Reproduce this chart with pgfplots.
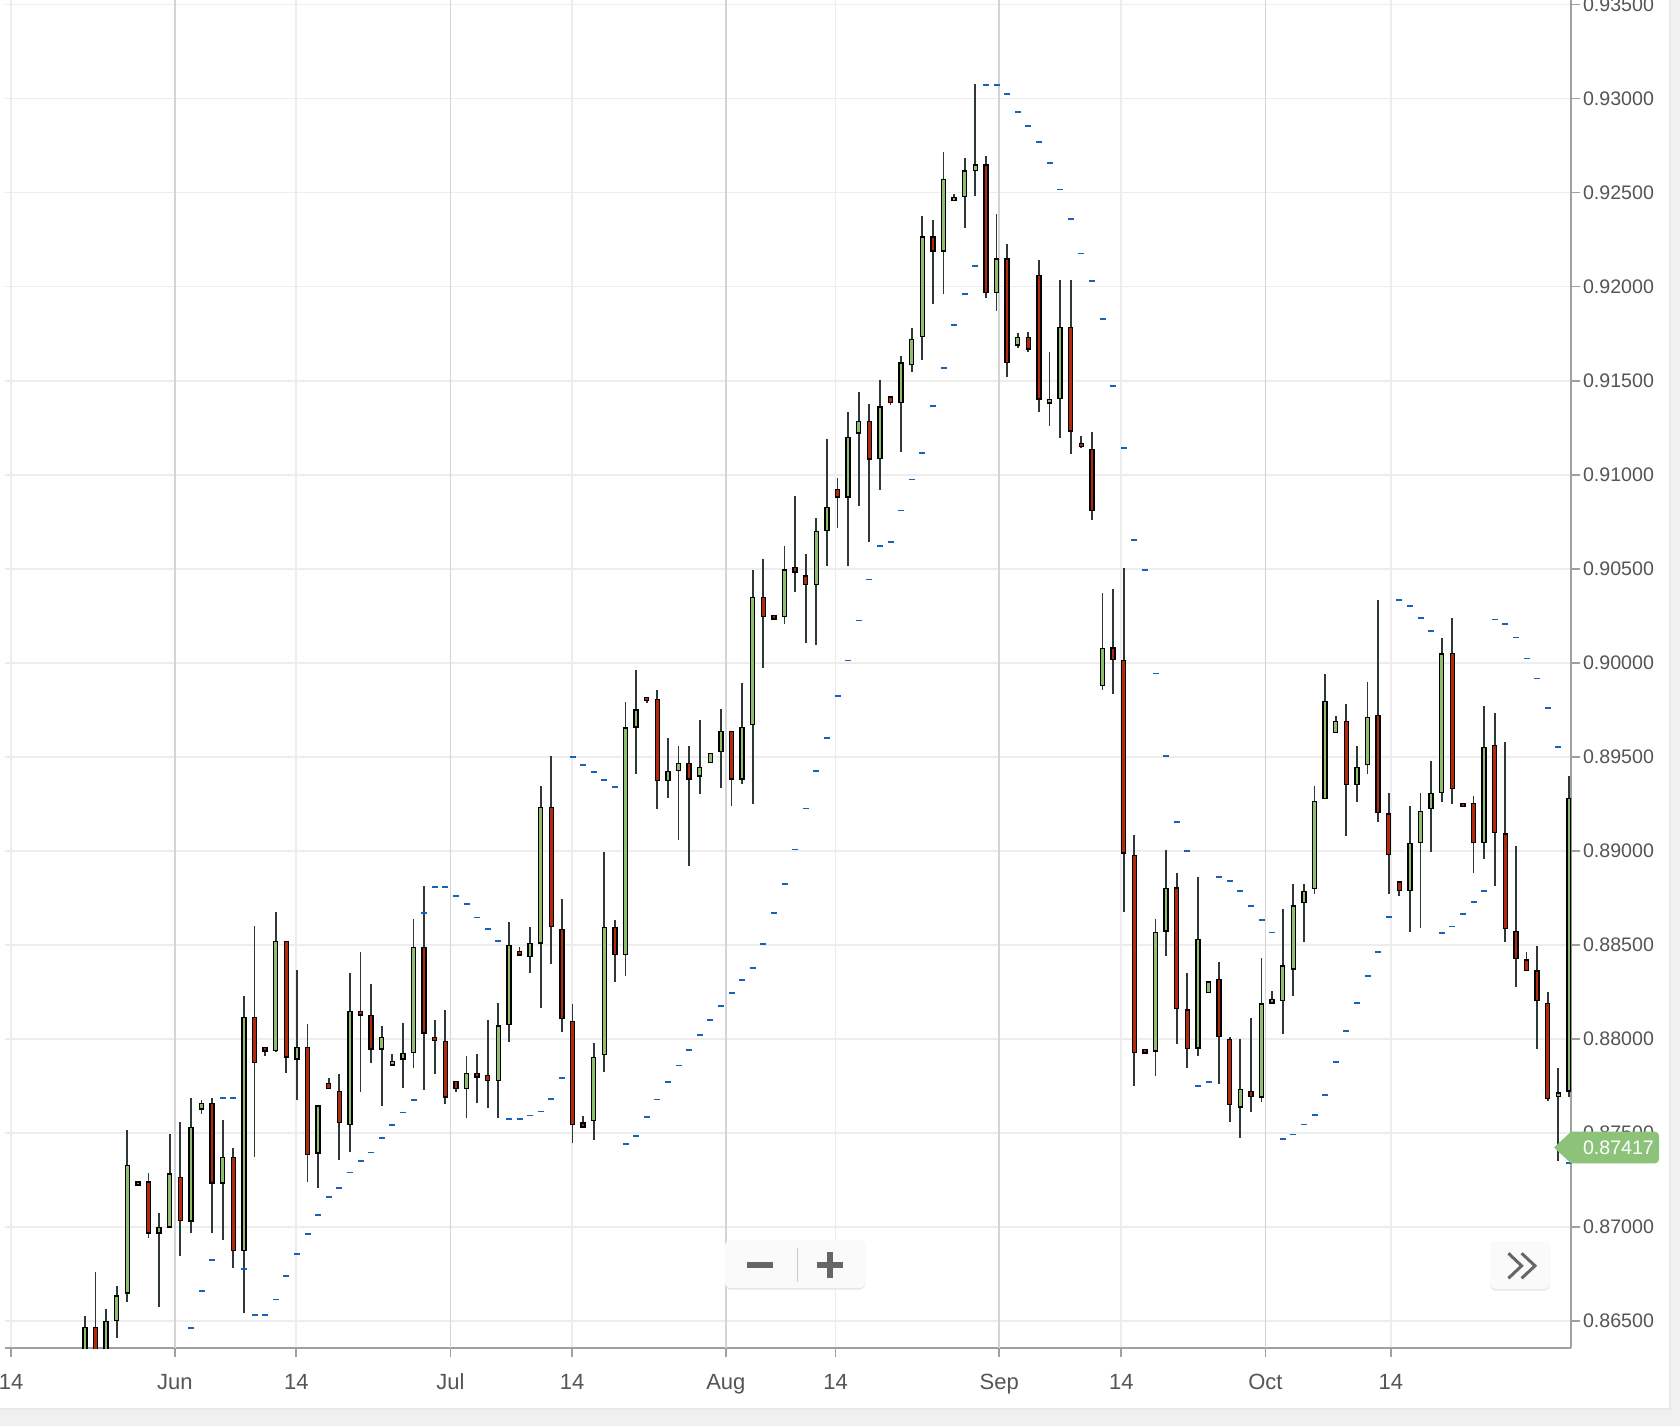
\documentclass[border=0pt]{standalone}
\usepackage{pgfplots}
\pgfplotsset{compat=1.18}
\usepackage{pgfplotstable}
\usepackage{fontspec}
\setmainfont{Liberation Sans}
\definecolor{gup}{HTML}{8FBE6F}
\definecolor{gdn}{HTML}{B3290E}
\definecolor{wick}{HTML}{2E3838}
\definecolor{sarc}{HTML}{1862B8}
\definecolor{gridc}{HTML}{EDEDED}
\definecolor{monthc}{HTML}{D4D4D4}
\definecolor{axisc}{HTML}{A0A0A0}
\definecolor{labelc}{HTML}{555555}
\definecolor{tagc}{HTML}{8DC27A}
\definecolor{btnc}{HTML}{666666}

\pgfplotstableread{
x O H L C
1 0.86300 0.86525 0.86250 0.86468
2 0.86468 0.86761 0.86200 0.86320
3 0.86330 0.86566 0.86250 0.86500
4 0.86498 0.86684 0.86411 0.86637
5 0.86645 0.87514 0.86601 0.87328
6 0.87228 0.87240 0.87222 0.87236
7 0.87243 0.87289 0.86941 0.86965
8 0.86965 0.87076 0.86571 0.87000
9 0.86996 0.87493 0.86996 0.87285
10 0.87266 0.87557 0.86844 0.87030
11 0.87027 0.87684 0.86965 0.87532
12 0.87624 0.87674 0.87603 0.87661
13 0.87660 0.87684 0.86965 0.87230
14 0.87230 0.87567 0.86929 0.87372
15 0.87372 0.87417 0.86782 0.86871
16 0.86871 0.88227 0.86539 0.88117
17 0.88117 0.88599 0.87369 0.87869
18 0.87957 0.87957 0.87910 0.87934
19 0.87934 0.88674 0.87930 0.88521
20 0.88521 0.88521 0.87816 0.87901
21 0.87890 0.88365 0.87674 0.87957
22 0.87957 0.88078 0.87239 0.87381
23 0.87390 0.87647 0.87209 0.87647
24 0.87768 0.87793 0.87732 0.87732
25 0.87723 0.87812 0.87358 0.87550
26 0.87541 0.88353 0.87399 0.88149
27 0.88149 0.88461 0.87718 0.88124
28 0.88126 0.88291 0.87869 0.87943
29 0.87943 0.88067 0.87644 0.88011
30 0.87858 0.87918 0.87858 0.87883
31 0.87890 0.88087 0.87739 0.87926
32 0.87922 0.88640 0.87846 0.88489
33 0.88489 0.88812 0.87727 0.88028
34 0.88011 0.88099 0.87816 0.87988
35 0.87989 0.88152 0.87656 0.87688
36 0.87777 0.87777 0.87718 0.87732
37 0.87732 0.87908 0.87580 0.87819
38 0.87819 0.87918 0.87656 0.87794
39 0.87810 0.88099 0.87633 0.87775
40 0.87775 0.88193 0.87580 0.88073
41 0.88073 0.88619 0.87984 0.88500
42 0.88468 0.88489 0.88445 0.88445
43 0.88433 0.88596 0.88348 0.88511
44 0.88507 0.89344 0.88165 0.89234
45 0.89234 0.89503 0.88397 0.88592
46 0.88585 0.88746 0.88037 0.88103
47 0.88096 0.88183 0.87443 0.87541
48 0.87555 0.87589 0.87528 0.87528
49 0.87562 0.87980 0.87461 0.87904
50 0.87913 0.88993 0.87824 0.88596
51 0.88596 0.88631 0.88303 0.88445
52 0.88445 0.89791 0.88335 0.89656
53 0.89656 0.89961 0.89411 0.89753
54 0.89819 0.89819 0.89784 0.89796
55 0.89807 0.89855 0.89220 0.89371
56 0.89371 0.89597 0.89282 0.89424
57 0.89424 0.89557 0.89057 0.89468
58 0.89468 0.89557 0.88918 0.89379
59 0.89394 0.89695 0.89301 0.89447
60 0.89465 0.89521 0.89465 0.89521
61 0.89527 0.89757 0.89335 0.89638
62 0.89638 0.89638 0.89239 0.89379
63 0.89379 0.89895 0.89355 0.89660
64 0.89668 0.90493 0.89252 0.90351
65 0.90351 0.90555 0.89973 0.90245
66 0.90254 0.90254 0.90232 0.90232
67 0.90245 0.90621 0.90209 0.90498
68 0.90509 0.90886 0.90378 0.90479
69 0.90466 0.90578 0.90103 0.90413
70 0.90413 0.90768 0.90092 0.90702
71 0.90700 0.91193 0.90516 0.90830
72 0.90924 0.90982 0.90718 0.90879
73 0.90879 0.91333 0.90516 0.91202
74 0.91220 0.91440 0.90835 0.91287
75 0.91287 0.91376 0.90644 0.91081
76 0.91081 0.91503 0.90918 0.91363
77 0.91417 0.91417 0.91369 0.91381
78 0.91381 0.91633 0.91124 0.91598
79 0.91583 0.91782 0.91548 0.91725
80 0.91732 0.92378 0.91612 0.92268
81 0.92268 0.92356 0.91910 0.92188
82 0.92188 0.92718 0.91963 0.92576
83 0.92456 0.92495 0.92456 0.92480
84 0.92477 0.92686 0.92314 0.92619
85 0.92615 0.93080 0.92484 0.92651
86 0.92651 0.92697 0.91941 0.91966
87 0.91966 0.92388 0.91869 0.92151
88 0.92151 0.92229 0.91520 0.91594
89 0.91688 0.91757 0.91677 0.91734
90 0.91734 0.91757 0.91654 0.91667
91 0.92064 0.92142 0.91335 0.91401
92 0.91379 0.91651 0.91261 0.91404
93 0.91401 0.92035 0.91197 0.91787
94 0.91787 0.92035 0.91112 0.91230
95 0.91170 0.91206 0.91145 0.91145
96 0.91138 0.91227 0.90762 0.90807
97 0.89877 0.90371 0.89856 0.90082
98 0.90082 0.90395 0.89834 0.90016
99 0.90016 0.90504 0.88676 0.88985
100 0.88977 0.89086 0.87748 0.87922
101 0.87946 0.87946 0.87922 0.87922
102 0.87932 0.88640 0.87803 0.88571
103 0.88571 0.89003 0.88442 0.88805
104 0.88805 0.88884 0.87974 0.88158
105 0.88158 0.88352 0.87847 0.87946
106 0.87946 0.88862 0.87910 0.88531
107 0.88243 0.88307 0.88243 0.88307
108 0.88319 0.88406 0.87761 0.88009
109 0.87999 0.88009 0.87559 0.87648
110 0.87635 0.88001 0.87474 0.87734
111 0.87724 0.88109 0.87609 0.87688
112 0.87688 0.88428 0.87664 0.88190
113 0.88188 0.88257 0.88188 0.88212
114 0.88200 0.88693 0.88025 0.88392
115 0.88369 0.88823 0.88226 0.88711
116 0.88721 0.88823 0.88515 0.88785
117 0.88797 0.89344 0.88772 0.89266
118 0.89276 0.89941 0.89276 0.89797
119 0.89627 0.89717 0.89627 0.89690
120 0.89690 0.89779 0.89080 0.89348
121 0.89348 0.89557 0.89260 0.89447
122 0.89456 0.89897 0.89409 0.89713
123 0.89722 0.90335 0.89152 0.89200
124 0.89200 0.89310 0.88772 0.88977
125 0.88838 0.88838 0.88759 0.88785
126 0.88785 0.89238 0.88569 0.89042
127 0.89042 0.89310 0.88591 0.89213
128 0.89222 0.89481 0.88994 0.89308
129 0.89308 0.90131 0.89260 0.90051
130 0.90051 0.90238 0.89251 0.89329
131 0.89254 0.89254 0.89234 0.89234
132 0.89254 0.89290 0.88880 0.89040
133 0.89040 0.89770 0.88954 0.89554
134 0.89564 0.89736 0.88816 0.89094
135 0.89094 0.89576 0.88516 0.88584
136 0.88574 0.89026 0.88274 0.88424
137 0.88424 0.88460 0.88360 0.88360
138 0.88364 0.88494 0.87944 0.88200
139 0.88190 0.88250 0.87670 0.87680
140 0.87692 0.87844 0.87350 0.87716
141 0.87720 0.89400 0.87690 0.89284
}\candles

\pgfplotstableread{
x s
11 0.86463
12 0.86658
13 0.86821
14 0.87684
15 0.87684
16 0.86777
17 0.86530
18 0.86530
19 0.86613
20 0.86738
21 0.86853
22 0.86963
23 0.87064
24 0.87160
25 0.87204
26 0.87289
27 0.87348
28 0.87395
29 0.87470
30 0.87541
31 0.87608
32 0.87674
33 0.88668
34 0.88805
35 0.88805
36 0.88759
37 0.88715
38 0.88645
39 0.88582
40 0.88520
41 0.87573
42 0.87573
43 0.87592
44 0.87613
45 0.87681
46 0.87791
47 0.89498
48 0.89456
49 0.89417
50 0.89376
51 0.89339
52 0.87438
53 0.87484
54 0.87582
55 0.87677
56 0.87768
57 0.87858
58 0.87941
59 0.88020
60 0.88098
61 0.88172
62 0.88245
63 0.88312
64 0.88378
65 0.88505
66 0.88670
67 0.88823
68 0.89006
69 0.89225
70 0.89424
71 0.89599
72 0.89821
73 0.90012
74 0.90225
75 0.90443
76 0.90621
77 0.90640
78 0.90810
79 0.90975
80 0.91117
81 0.91367
82 0.91567
83 0.91796
84 0.91963
85 0.92112
86 0.93071
87 0.93071
88 0.93023
89 0.92929
90 0.92854
91 0.92768
92 0.92660
93 0.92517
94 0.92358
95 0.92177
96 0.92032
97 0.91828
98 0.91472
99 0.91144
100 0.90653
101 0.90494
102 0.89943
103 0.89503
104 0.89152
105 0.88997
106 0.87748
107 0.87771
108 0.88860
109 0.88838
110 0.88787
111 0.88707
112 0.88632
113 0.88565
114 0.87466
115 0.87491
116 0.87544
117 0.87595
118 0.87700
119 0.87878
120 0.88042
121 0.88192
122 0.88333
123 0.88460
124 0.88648
125 0.90335
126 0.90302
127 0.90236
128 0.90167
129 0.88563
130 0.88597
131 0.88664
132 0.88726
133 0.88786
134 0.90230
135 0.90204
136 0.90134
137 0.90022
138 0.89916
139 0.89758
140 0.89550
141 0.87340
}\sar

\pgfplotsset{candlebar/.style={only marks, mark=*, mark size=0pt, mark options={draw=none, fill=none}, forget plot,
  error bars/y dir=both, error bars/y explicit, error bars/error mark=none}}

\begin{document}
\begin{tikzpicture}
\useasboundingbox (0,0) rectangle (840pt,713pt);
\fill[black!6] (0,0) rectangle (840pt,713pt);
\fill[black!9] (0,8pt) rectangle (835.5pt,713pt);
\fill[white] (0,9pt) rectangle (834.5pt,713pt);
\begin{axis}[
  at={(2.5pt,39pt)}, anchor=south west,
  scale only axis, width=783pt, height=674pt,
  xmin=-6.54, xmax=141.2,
  ymin=0.86355, ymax=0.93525,
  axis x line*=bottom, axis y line*=right,
  axis line style={draw=axisc, line width=0.8pt},
  tick style={draw=axisc, line width=0.8pt},
  tick align=outside, major tick length=4.5pt,
  xtick={-5.97,20.94,46.97,71.82,98.77,124.21},
  xticklabels={14,14,14,14,14,14},
  extra x ticks={9.478,35.48,61.47,87.26,112.37},
  extra x tick labels={Jun,Jul,Aug,Sep,Oct},
  extra x tick style={major grid style={draw=monthc, line width=0.8pt}},
  ytick={0.865,0.870,0.875,0.880,0.885,0.890,0.895,0.900,0.905,0.910,0.915,0.920,0.925,0.930,0.935},
  scaled y ticks=false,
  /pgf/number format/assume math mode=true,
  yticklabel style={/pgf/number format/fixed, /pgf/number format/fixed zerofill, /pgf/number format/precision=5, font=\fontsize{9.8}{11}\selectfont, text=labelc, xshift=-2pt},
  xticklabel style={font=\fontsize{11}{13}\selectfont, text=labelc, text height=8pt, text depth=2pt, yshift=-4.6pt},
  grid=major,
  major grid style={draw=gridc, line width=0.8pt},
]
% wicks
\addplot[candlebar, error bars/error bar style={draw=wick, line width=0.9pt}]
  table[x=x, y expr={(\thisrow{H}+\thisrow{L})/2}, y error expr={(\thisrow{H}-\thisrow{L})/2}] {\candles};
% body outline
\addplot[candlebar, error bars/error bar style={draw=black, line width=2.65pt}]
  table[x=x, y expr={(\thisrow{O}+\thisrow{C})/2}, y error expr={max(abs(\thisrow{C}-\thisrow{O})/2,0.000125)}] {\candles};
% body fill up
\addplot[candlebar, restrict expr to domain={\thisrow{C}-\thisrow{O}}{0:1}, error bars/error bar style={draw=gup, line width=1.35pt}]
  table[x=x, y expr={(\thisrow{O}+\thisrow{C})/2}, y error expr={max(abs(\thisrow{C}-\thisrow{O})/2-0.00007,0.00003)}] {\candles};
% body fill down
\addplot[candlebar, restrict expr to domain={\thisrow{C}-\thisrow{O}}{-1:-0.0000001}, error bars/error bar style={draw=gdn, line width=1.35pt}]
  table[x=x, y expr={(\thisrow{O}+\thisrow{C})/2}, y error expr={max(abs(\thisrow{C}-\thisrow{O})/2-0.00007,0.00003)}] {\candles};
% parabolic SAR
\addplot[only marks, mark=-, mark size=1.5pt, color=sarc, mark options={line width=0.9pt, draw=sarc}] table[x=x, y=s] {\sar};
\end{axis}
% price tag
\fill[tagc] (777pt,139.25pt) -- (785.5pt,147.15pt) [rounded corners=2pt] -- (829.5pt,147.15pt) -- (829.5pt,131.35pt) [sharp corners] -- (785.5pt,131.35pt) -- cycle;
\node[anchor=west, text=white, font=\fontsize{9.8}{11}\selectfont, inner sep=0pt] at (791.3pt,139.25pt) {0.87417};
% zoom buttons
\fill[black!10, rounded corners=3pt] (362.5pt,68.2pt) rectangle (432.5pt,92.6pt);
\fill[black!2, rounded corners=3pt] (362.5pt,69pt) rectangle (432.5pt,93pt);
\draw[black!20, line width=0.7pt] (398.8pt,72pt) -- (398.8pt,89pt);
\fill[btnc] (373.3pt,78.85pt) rectangle (386.7pt,82.15pt);
\fill[btnc] (408.3pt,78.85pt) rectangle (421.7pt,82.15pt);
\fill[btnc] (413.3pt,73.85pt) rectangle (416.7pt,87.15pt);
\fill[black!10, rounded corners=3pt] (745pt,67.7pt) rectangle (775pt,92.1pt);
\fill[black!2, rounded corners=3pt] (745pt,68.5pt) rectangle (775pt,92.5pt);
\draw[btnc, line width=1.5pt] (754.2pt,86.35pt) -- (760.8pt,80.1pt) -- (754.2pt,73.85pt);
\draw[btnc, line width=1.5pt] (760.8pt,86.35pt) -- (767.5pt,80.1pt) -- (760.8pt,73.85pt);
\end{tikzpicture}
\end{document}
